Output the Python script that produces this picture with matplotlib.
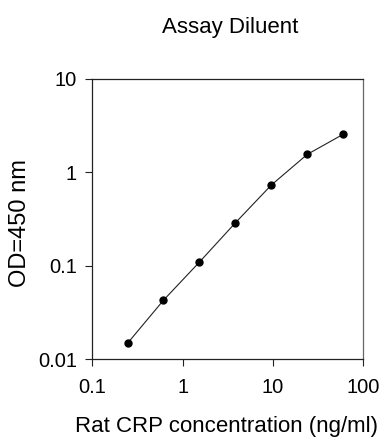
import matplotlib
matplotlib.use("Agg")
import matplotlib.pyplot as plt
from matplotlib.ticker import FixedLocator, FixedFormatter, NullLocator

# ── data ────────────────────────────────────────────────────
conc_ng_ml = [0.24576, 0.6144, 1.536, 3.84, 9.6, 24, 60]
od_450     = [0.0149, 0.043, 0.110, 0.289, 0.733, 1.56, 2.56]

x_ticks  = [0.1, 1, 10, 100]
x_labels = ["0.1", "1", "10", "100"]
y_ticks  = [0.01, 0.1, 1, 10]
y_labels = ["0.01", "0.1", "1", "10"]

plt.rcParams["font.family"] = ["Liberation Sans", "DejaVu Sans"]

fig = plt.figure(figsize=(3.86, 4.46), dpi=100)
ax = fig.add_axes([0.239, 0.194, 0.702, 0.629])

ax.plot(conc_ng_ml, od_450, color="#222222", lw=0.8,
        marker="o", ms=5, mfc="black", mec="black")

ax.set_xscale("log"); ax.set_yscale("log")
ax.set_xlim(0.1, 100); ax.set_ylim(0.01, 10)

ax.xaxis.set_major_locator(FixedLocator(x_ticks))
ax.xaxis.set_major_formatter(FixedFormatter(x_labels))
ax.yaxis.set_major_locator(FixedLocator(y_ticks))
ax.yaxis.set_major_formatter(FixedFormatter(y_labels))
ax.xaxis.set_minor_locator(NullLocator())
ax.yaxis.set_minor_locator(NullLocator())

ax.tick_params(axis="both", direction="out", length=5, width=0.8,
               labelsize=14.5, color="#222222")
ax.tick_params(axis="x", pad=8)
ax.tick_params(axis="y", pad=6)
for side in ["left", "bottom", "top"]:
    ax.spines[side].set_linewidth(0.9)
    ax.spines[side].set_color("#222222")
ax.spines["right"].set_linewidth(0.9)
ax.spines["right"].set_color("#666666")

# titles / labels placed to match the picture
fig.text(0.596, 0.939, "Assay Diluent", ha="center", va="center", fontsize=16)
fig.text(0.587, 0.043, "Rat CRP concentration (ng/ml)",
         ha="center", va="center", fontsize=16)
fig.text(0.052, 0.5, "OD=450 nm", ha="center", va="center",
         rotation=90, fontsize=17)

fig.savefig("out.png", dpi=100)
